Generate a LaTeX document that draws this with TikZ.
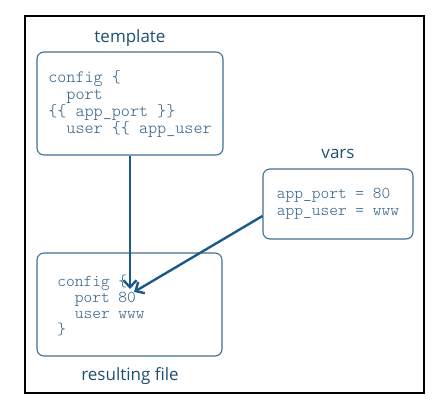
\documentclass[tikz,border=0pt]{standalone}
\usepackage{fontspec}
\setmainfont{Open Sans}
\setmonofont{lmmonolt10-regular.otf}
\usetikzlibrary{arrows.meta}
\definecolor{boxc}{HTML}{3F6F90}
\definecolor{codec}{HTML}{2F5F85}
\definecolor{titlec}{HTML}{1F4E70}
\definecolor{arrc}{HTML}{1B5A88}
\tikzset{
  codebox/.style={draw=boxc, line width=1.1pt, rounded corners=7pt, text=codec,
    font=\ttfamily\fontsize{16.6}{17}\selectfont, align=left, inner sep=0pt},
  codetext/.style={text=codec, font=\ttfamily\fontsize{16.6}{16}\selectfont, align=left, inner sep=0pt},
  title/.style={text=titlec, font=\fontsize{17}{20}\selectfont, anchor=base, inner sep=0pt},
  flow/.style={draw=arrc, line width=2.4pt, -{Straight Barb[length=7pt,width=13pt]}}
}
\begin{document}
\begin{tikzpicture}[x=1pt,y=-1pt]
\useasboundingbox (0,0) rectangle (442,410);
\node[draw=black, line width=1.3pt, minimum width=399pt, minimum height=377pt, inner sep=0pt] (frame) at (224.5,204.5) {};
\node[codebox, minimum width=186pt, minimum height=103pt, font=\ttfamily\fontsize{17.3}{17}\selectfont] (tpl) at (130,103.5)
  {config \{\\\phantom{xx}port\\\{\{ app\_port \}\}\\\phantom{xx}user \{\{ app\_user};
\node[codebox, minimum width=150pt, minimum height=70pt] (vars) at (338,204)
  {app\_port = 80\\app\_user = www};
\node[codebox, minimum width=185pt, minimum height=103pt] (res) at (129.5,304.5) {};
\node[codetext] (restext) at (101,305)
  {config \{\\\phantom{xx}port 80\\\phantom{xx}user www\\\}};
\node[title] (tpltitle) at (130,42) {template};
\node[title] (varstitle) at (338,158) {vars};
\node[title] (restitle) at (130,380) {resulting file};
\coordinate (tip1) at (130,289);
\coordinate (tip2) at (134,292);
\draw[flow] (tpl.south) -- (tip1);
\draw[flow] ([yshift=-12pt]vars.west) -- (tip2);
\end{tikzpicture}
\end{document}
